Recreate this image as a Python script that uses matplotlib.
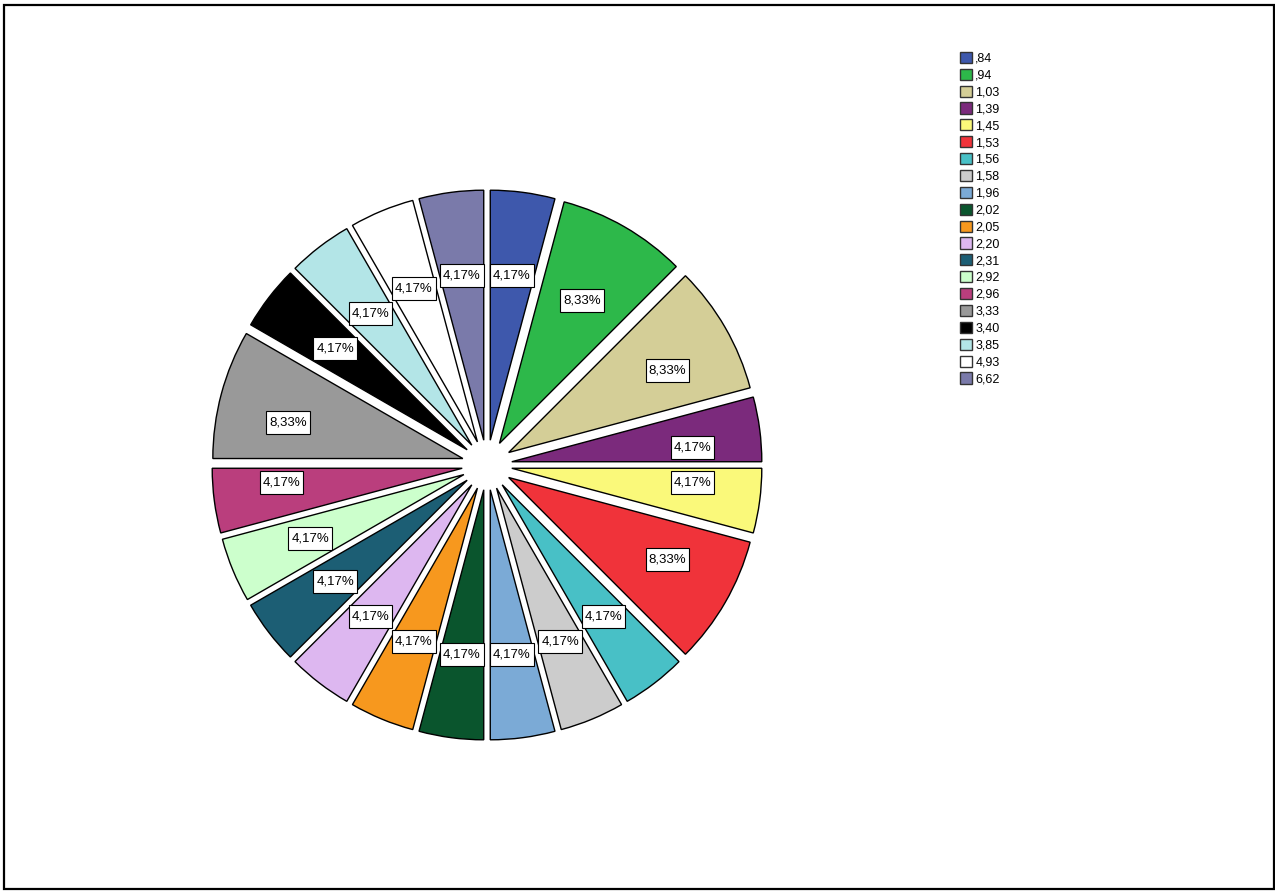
import matplotlib
matplotlib.use("Agg")
import numpy as np
import matplotlib.pyplot as plt
from matplotlib.patches import Patch, Rectangle

plt.rcParams['font.family'] = ['Liberation Sans', 'DejaVu Sans']

# Category labels (decimal comma) and their counts
categories = [",84", ",94", "1,03", "1,39", "1,45", "1,53", "1,56", "1,58", "1,96", "2,02",
              "2,05", "2,20", "2,31", "2,92", "2,96", "3,33", "3,40", "3,85", "4,93", "6,62"]
counts = [1, 2, 2, 1, 1, 2, 1, 1, 1, 1,
          1, 1, 1, 1, 1, 2, 1, 1, 1, 1]
colors = ["#3E58AC", "#2DB84A", "#D4CE97", "#7B2A7C", "#FAF97A", "#F0333A", "#48C0C6",
          "#CCCCCC", "#7BAAD6", "#0A552D", "#F7981E", "#DDB7F0", "#1C5E74", "#CCFFCC",
          "#BA3E7D", "#999999", "#000000", "#B3E5E7", "#FFFFFF", "#7A7AAA"]

W, H = 1275, 891
fig = plt.figure(figsize=(W / 100, H / 100), dpi=100)
ax = fig.add_axes([0, 0, 1, 1])

# outer frame
ax.add_patch(Rectangle((3.5, 2.5), W - 5, H - 7, fill=False, edgecolor='black',
                       linewidth=1.6, zorder=0))


def fmt_pct(p):
    return f"{p:.2f}".replace(".", ",") + "%"


cx, cy = 487, H - 465
radius = 250
pull = 25

# every slice pulled out from the centre by the same distance (data units = pixels)
wedges, texts, autotexts = ax.pie(
    counts, colors=colors, startangle=90, counterclock=False,
    center=(cx, cy), radius=radius, explode=[pull] * len(counts),
    autopct=fmt_pct, frame=True,
    wedgeprops=dict(edgecolor='black', linewidth=1.0),
    textprops=dict(fontsize=9.5, color='black', zorder=5))
ax.set_xlim(0, W)
ax.set_ylim(0, H)
ax.set_aspect('equal')
ax.axis('off')


def touches_horizontal(t1, t2):
    lo, hi = sorted((round(t1 % 360, 6), round(t2 % 360, 6)))
    if hi - lo > 180:
        lo, hi = hi, lo + 360
    return any(lo - 1e-3 <= a <= hi + 1e-3 for a in (0, 180, 360))


# percentage labels at each slice's centroid; near-horizontal labels of wide
# slices or slices on the horizontal diameter are pushed outward
renderer = fig.canvas.get_renderer()
for w, t in zip(wedges, autotexts):
    span = abs(w.theta2 - w.theta1)
    half = np.deg2rad(span / 2)
    mid = np.deg2rad((w.theta1 + w.theta2) / 2)
    ux, uy = np.cos(mid), np.sin(mid)
    dist = pull + 2 * radius * np.sin(half) / (3 * half)
    x, y = cx + dist * ux, cy + dist * uy
    if abs(ux) > 0.85 and (span > 20 or touches_horizontal(w.theta1, w.theta2)):
        x += 16 * np.sign(ux)
        if abs(ux) > 0.95:
            y -= 7 * np.sign(uy)
    t.set_position((x, y))
    bb = t.get_window_extent(renderer)
    bw, bh = bb.width + 6, 23
    ax.add_patch(Rectangle((x - bw / 2, y - bh / 2), bw, bh, facecolor='white',
                           edgecolor='black', linewidth=0.8, zorder=4))

handles = [Patch(facecolor=c, edgecolor='#333333', linewidth=1.0) for c in colors]
leg = ax.legend(handles, categories, loc='upper left',
                bbox_to_anchor=(951 / W, 1 - 43 / H), frameon=False,
                fontsize=9, handlelength=1.0, handleheight=1.0,
                handletextpad=0.25, labelspacing=0.32, borderpad=0.2)

fig.savefig("out.png", dpi=100)
